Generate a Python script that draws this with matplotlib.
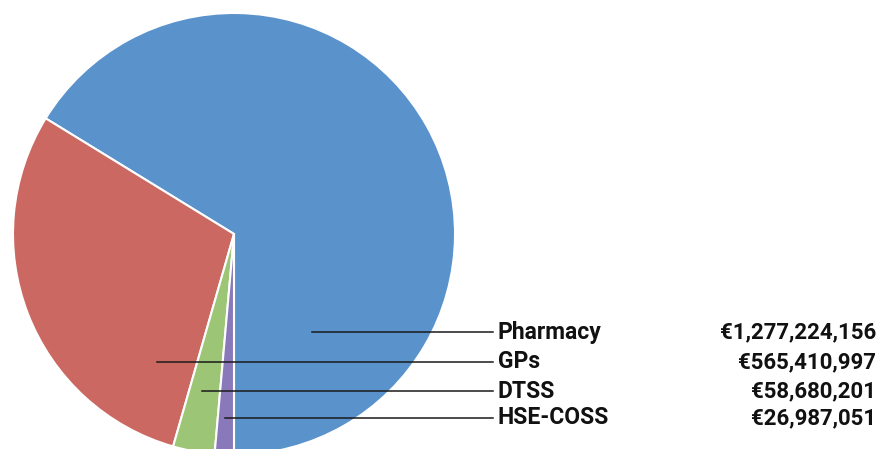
import matplotlib.pyplot as plt
from matplotlib import font_manager

# spending by scheme
labels = ["Pharmacy", "GPs", "DTSS", "HSE-COSS"]
values = [1277224156, 565410997, 58680201, 26987051]
value_text = ["€1,277,224,156", "€565,410,997", "€58,680,201", "€26,987,051"]
colors = ["#5A92CB", "#CB6862", "#9DC576", "#8A79BA"]

# where each leader line starts inside the pie (pixels)
leader_x = [312, 157, 202, 225]
leader_y = [332, 362, 391, 418]

names = {f.name for f in font_manager.fontManager.ttflist}
fam = ["Liberation Sans Narrow"] if "Liberation Sans Narrow" in names else ["Roboto"]
fam = fam + ["DejaVu Sans"]

W, H = 879, 449
fig = plt.figure(figsize=(W / 100, H / 100), dpi=100)
ax = fig.add_axes([0, 0, 1, 1])

ax.pie(values, colors=colors, startangle=270, counterclock=True,
       center=(234, H - 234), radius=221, frame=True,
       wedgeprops=dict(edgecolor="white", linewidth=1.5))
ax.set_xlim(0, W)
ax.set_ylim(0, H)
ax.set_aspect("equal")
ax.axis("off")

for i in range(len(labels)):
    y = H - leader_y[i]
    ax.plot([leader_x[i], 493], [y, y], color="#1a1a1a", lw=1.1)
    ax.text(498, y, labels[i], ha="left", va="center", fontsize=16.5,
            fontweight="bold", family=fam, color="#111111")
    ax.text(876, y, value_text[i], ha="right", va="center", fontsize=16,
            fontweight="bold", family=fam, color="#111111")

fig.savefig("out.png", dpi=100)
